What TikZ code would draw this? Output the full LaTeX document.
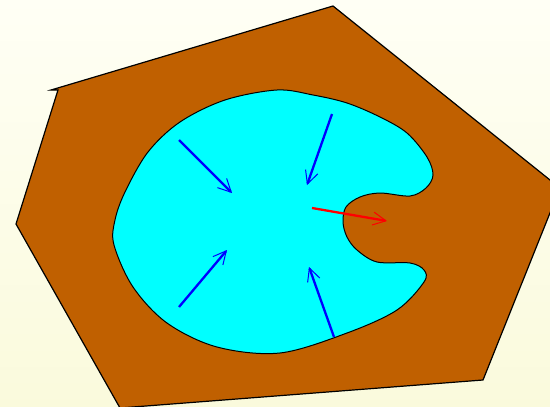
\documentclass[tikz,border=0pt]{standalone}
\usetikzlibrary{arrows.meta}
\definecolor{soil}{RGB}{192,96,0}
\definecolor{water}{RGB}{0,255,255}
\definecolor{bgtop}{RGB}{255,255,245}
\definecolor{bgbot}{RGB}{250,250,220}
\tikzset{
  flow/.style={line width=2.3pt, -{Straight Barb[length=13pt,width=13pt,line width=1pt]}},
}
\begin{document}
\begin{tikzpicture}[x=1pt,y=-1pt]
\shade[top color=bgtop,bottom color=bgbot] (0,0) rectangle (550,407);
\useasboundingbox (0,0) rectangle (550,407);
\filldraw[fill=soil,draw=black,line width=1.2pt]
  (51,90) -- (333,6) -- (560,188) -- (483,380) -- (120,408) -- (16,224) -- (58,90) -- cycle;
\filldraw[fill=water,draw=black,line width=1pt]
  plot[smooth cycle,tension=0.55] coordinates {
  (277,90) (313,95) (347,103) (380,117) (407,133) (427,157) (433,175) (426,188)
  (410,196) (380,193) (360,197) (346,207) (343,222) (347,237) (357,250) (377,262)
  (410,263) (424,270) (424,282) (397,310) (347,333) (280,353) (217,347) (167,323)
  (133,287) (114,245) (115,220) (125,192) (148,152) (180,122) (225,100)};
\draw[flow,blue] (179,140) -- (232,193);
\draw[flow,blue] (332,114) -- (307,185);
\draw[flow,blue] (179,307) -- (227,250);
\draw[flow,blue] (334,337) -- (309,267);
\draw[flow,red] (312,208) -- (387,221);
\end{tikzpicture}
\end{document}
